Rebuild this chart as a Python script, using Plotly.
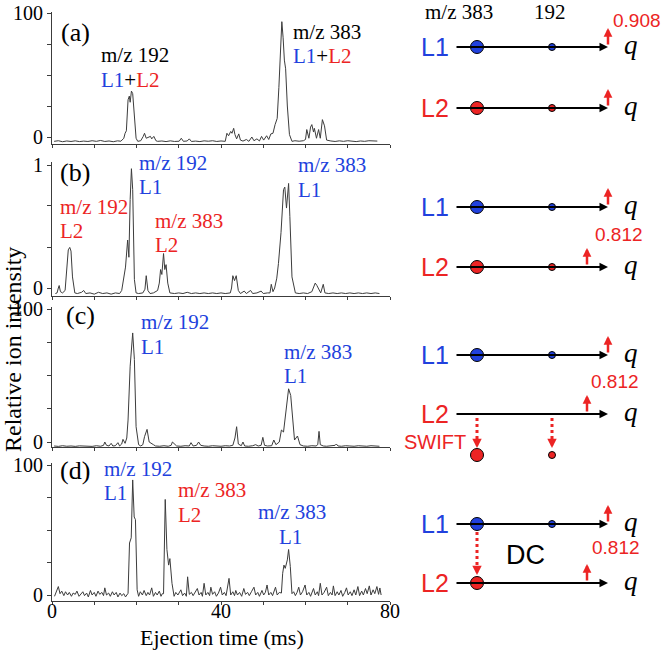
import plotly.graph_objects as go

W, H = 666, 652
SERIF = "Liberation Serif, Times New Roman, serif"
SANS = "Liberation Sans, Arial, sans-serif"
BLUE = "#2141dd"
RED = "#ec2424"
LINE = "#3c3c3c"

# ---------------- data ----------------
time_a = [0.5, 1.5, 2.5, 3.5, 4.5, 5.5, 6.5, 7.5, 8.5, 9.5, 10.5, 11.5, 12.5, 13.5, 14.5, 15.5, 16.3,
          17.0, 17.3, 17.6, 18.0, 18.3, 18.5, 18.8, 19.1, 19.5, 19.9, 20.3, 21.0, 21.6, 21.9, 22.3,
          22.8, 23.3, 23.6, 24.1, 24.6, 25.0, 26, 27, 28, 29, 30.1, 30.6, 31.1, 32.0, 32.5, 33.0,
          34, 35, 36, 37, 38, 39, 40, 41.0, 41.4, 41.8, 42.3, 42.6, 43.0, 43.3, 43.7, 44.2, 44.6,
          45.2, 46.0, 46.6, 47.3, 47.8, 48.5, 49.1, 49.6, 50.1, 50.8, 51.3, 51.8, 52.3, 52.8, 53.3,
          53.7, 54.1, 54.4, 54.7, 55.0, 55.3, 55.7, 56.2, 56.8, 57.5, 58.5, 59.5, 60.0, 60.3, 60.8,
          61.2, 61.5, 61.9, 62.1, 62.6, 63.1, 63.5, 64.0, 64.5, 65.0, 66, 67, 68, 69, 70, 71, 72,
          73, 74, 75, 76, 77]
int_a = [-3.5, -3.0, -3.8, -3.2, -3.6, -3.1, -3.7, -3.3, -3.6, -3.0, -3.5, -2.8, -3.6, -3.2, -3.8, -3.1, -3.4,
         -1.0, 3.0, 5.0, 30, 33, 28, 37, 35, 15, -1, -3.5, -3.0, 0.5, 3.0, -1.0,
         -0.5, 0.5, -1.5, 0.5, -3.0, -3.5, -3.2, -3.7, -3.1, -3.6, -3.4, -1.0, -3.5, -3.2, -1.5, -3.6,
         -3.3, -3.7, -3.1, -3.4, -3.0, -3.6, -3.2, -3.5, 3.0, 1.0, 4.5, 3.0, 7.0, 2.0, -1.5, 2.5, -2.5,
         -3.3, -2.0, -3.5, 0.0, -3.0, -1.5, -3.2, 0.5, -2.5, 1.0, -2.0, 2.5, 3.0, 10, 15,
         40, 75, 93, 80, 62, 55, 25, 2, -3.5, -3.0, -3.4, -3.0, -2.0, 6, -1,
         8, 10, 4, 7, -1, 6, -1, 14, 9, -2.5, -3.2, -3.6, -3.1, -3.5, -3.0, -3.4, -3.7,
         -3.2, -3.5, -3.0, -3.4, -3.3]

time_b = [0.8, 1.2, 1.5, 1.7, 2.0, 2.5, 3.1, 3.5, 3.85, 4.2, 4.5, 4.85, 5.4, 6.0, 7.0, 7.5, 8.0, 9, 10,
          11, 12, 13, 14, 15, 16.0, 16.5, 16.8, 17.4, 17.9, 18.2, 18.5, 18.8, 19.1, 19.5, 19.9, 20.5,
          21.5, 22.0, 22.3, 22.7, 23.2, 24.0, 25.0, 25.4, 25.7, 26.0, 26.4, 26.7, 27.0, 27.4, 27.9,
          29, 30, 31, 32, 33, 34, 35, 36, 37, 38, 39, 40, 41, 42.2, 42.5, 42.8, 43.2, 43.6, 44.1,
          44.6, 45.5, 46.0, 47.0, 47.5, 48.5, 49.5, 50.0, 51.0, 51.6, 51.9, 52.3, 52.7, 53.2, 53.6,
          54.2, 54.8, 55.1, 55.5, 56.0, 56.3, 56.8, 57.6, 58.5, 59.5, 60.5, 61.5, 62.0, 62.3, 62.7,
          63.1, 63.6, 64.2, 64.6, 65.5, 66.5, 67.5, 68.5, 69.5, 70.5, 71.5, 72.5, 73.5, 74.5, 75.5,
          76.5, 77.5]
int_b = [-0.045, -0.04, 0.0, 0.02, -0.03, -0.04, -0.02, 0.17, 0.31, 0.33, 0.30, 0.09, -0.04, -0.045, -0.035,
         -0.02, -0.045, -0.04, -0.05, -0.035, -0.045, -0.04, -0.05, -0.04, -0.045, -0.02, 0.04, 0.17, 0.39,
         0.25, 0.72, 0.97, 0.80, 0.07, -0.04, -0.045, -0.04, -0.01, 0.10, -0.02, -0.045, -0.04, -0.02, 0.04,
         0.15, 0.11, 0.28, 0.15, 0.19, 0.04, -0.04, -0.045, -0.04, -0.045, -0.035, -0.045, -0.04, -0.045,
         -0.04, -0.045, -0.04, -0.045, -0.04, -0.045, -0.04, 0.0, 0.10, 0.06, 0.10, -0.02, -0.045, -0.025,
         -0.045, -0.02, -0.045, -0.04, -0.025, -0.045, -0.04, -0.04, 0.03, -0.03, 0.0, 0.08, 0.20, 0.45,
         0.80, 0.82, 0.65, 0.85, 0.58, 0.09, -0.04, -0.045, -0.04, -0.045, -0.03, 0.02, 0.04, 0.02, -0.01,
         -0.04, 0.03, -0.04, -0.045, -0.04, -0.045, -0.04, -0.045, -0.04, -0.045, -0.04, -0.045, -0.04,
         -0.045, -0.04, -0.045]

time_c = [0.5, 1.5, 2.5, 3.5, 4.5, 5.5, 6.5, 7.5, 8.5, 9.5, 10.5, 11.5, 12.2, 12.5, 12.9, 13.5, 14.0,
          14.4, 15.0, 15.6, 16.0, 16.5, 16.8, 17.3, 17.7, 18.0, 18.5, 19.1, 19.5, 19.9, 20.5, 21.0,
          21.5, 21.9, 22.5, 23.0, 24.0, 24.5, 25.5, 26.5, 27.5, 28.2, 28.5, 28.9, 29.5, 30.5, 31.5,
          32.5, 32.9, 33.4, 34.2, 34.7, 35.2, 36, 37, 38, 39, 40, 41, 42, 42.8, 43.3, 43.7, 44.1,
          44.8, 45.2, 45.6, 46.5, 47.5, 48.2, 48.8, 49.5, 49.9, 50.3, 51, 52, 52.5, 53.0, 53.8, 54.3,
          54.8, 55.4, 56.0, 56.5, 56.9, 57.4, 58.1, 58.7, 59.5, 60.5, 61.5, 62.5, 62.9, 63.2, 63.5,
          64.2, 65, 66, 67, 67.3, 67.7, 68.5, 69.5, 70.5, 71.5, 72.5, 73.5, 74.5, 75.5, 76.5, 77.5]
int_c = [-3.0, -3.3, -2.8, -3.2, -3.0, -3.3, -2.9, -3.2, -3.0, -3.3, -2.8, -3.2, -2.5, 0.0, -2.5, -3.0, -1.0,
         -3.0, -2.8, -0.5, -3.0, -1.5, 2.0, -1.0, 3.0, 16.5, 57, 82, 62, 11.5, -2.0, -3.0,
         -2.0, 4.0, 9.5, 0.0, -2.0, -3.0, -3.2, -2.8, -3.2, -2.5, 0.0, -1.0, -3.0, -3.2, -2.8,
         -3.0, -0.5, -3.0, -2.5, 0.0, -2.5, -3.0, -3.2, -2.8, -3.0, -3.2, -2.8, -3.0, -2.5, 3.0, 11.5, -1.5,
         -2.8, 0.0, -3.0, -3.2, -2.8, -2.0, -3.0, -2.5, 3.5, -2.5, -3.0, -2.8, 1.5, -2.0, 0.0, 9.0,
         7.5, 24, 40, 35, 19, 1.5, 4.5, -2.0, -3.0, -3.2, -2.8, -3.0, -2.0, 8.0, -2.0,
         -3.0, -3.2, -2.8, -2.5, -1.5, -3.0, -3.2, -2.8, -3.0, -3.2, -2.8, -3.0, -3.2, -2.8, -3.0, -3.2]

time_d = [0.6, 1.0, 1.5, 1.9, 2.3, 2.8, 3.2, 3.7, 4.1, 4.6, 5.0, 5.5, 5.9, 6.4, 6.8, 7.3, 7.7, 8.2, 8.6,
          9.1, 9.5, 10.0, 10.4, 10.9, 11.3, 11.8, 12.2, 12.5, 12.9, 13.4, 13.8, 14.3, 14.7, 15.2, 15.6,
          16.1, 16.5, 17.0, 17.4, 17.8, 18.0, 18.35, 18.75, 19.1, 19.45, 19.75, 20.15, 20.5, 20.9, 21.4,
          21.8, 22.3, 22.7, 23.1, 23.6, 24.0, 24.5, 24.9, 25.4, 25.8, 26.1, 26.4, 26.8, 27.2, 27.6, 27.9,
          28.4, 28.9, 29.3, 29.8, 30.2, 30.5, 30.9, 31.4, 31.8, 32.1, 32.5, 33.0, 33.4, 33.9, 34.4, 34.8,
          35.3, 35.6, 36.0, 36.4, 36.9, 37.3, 37.6, 38.0, 38.5, 38.9, 39.4, 39.9, 40.3, 40.8, 41.2, 41.9,
          42.3, 42.8, 43.2, 43.5, 43.9, 44.4, 44.9, 45.4, 45.8, 46.3, 46.7, 47.2, 47.8, 48.2, 48.7, 49.1,
          49.7, 50.1, 50.5, 50.9, 51.3, 51.8, 52.2, 52.9, 53.3, 53.8, 54.3, 54.6, 54.9, 55.2, 55.7, 56.0,
          56.4, 56.8, 57.2, 57.6, 58.0, 58.4, 58.8, 59.3, 59.9, 60.3, 60.8, 61.2, 61.9, 62.3, 62.8, 63.1,
          63.5, 63.9, 64.4, 65.0, 65.4, 65.9, 66.3, 66.6, 67.0, 67.5, 67.9, 68.4, 68.8, 69.3, 69.7, 70.1,
          70.6, 71.0, 71.5, 71.9, 72.4, 72.8, 73.3, 73.7, 74.2, 74.6, 75.1, 75.5, 76.0, 76.4, 76.9, 77.3,
          77.6, 77.9]
int_d = [-1.0, 2.0, 6.5, 1.0, 3.0, -0.5, 2.5, 0.0, 2.0, -1.0, 1.5, 0.5, 3.0, -1.0, 1.0, 2.5, -0.5, 1.5, -1.5,
         3.5, 0.0, 2.0, -1.0, 3.0, 0.5, 2.0, -0.5, 5.5, 0.0, 1.5, -1.0, 2.5, 0.0, 2.0, -1.5,
         1.5, -0.5, 1.0, -1.5, 0.0, 1.3, 40, 44, 88.5, 60, 58, 4.0, -1.0, 2.5, 0.0,
         3.5, -0.5, 2.0, 0.0, 5.5, -1.0, 2.0, 0.0, 3.0, -1.0, 1.0, 1.0, 73.5, 35, 23, 28,
         9.0, -1.0, 2.0, 0.0, 2.5, 4.0, -0.5, 1.5, -1.0, 14, 0.5, 2.0, -0.5, 2.0, 5.0, 0.0,
         2.0, -1.0, 9.0, 0.0, 2.0, -0.5, 6.0, 0.5, 2.5, -1.0, 1.5, 6.0, 0.0, 2.0, -0.5, 12.8,
         0.0, 2.5, -0.5, 3.5, 0.0, 2.0, -1.0, 5.0, 0.5, 2.0, -0.5, 2.5, 6.0, 0.0, 2.0, -1.0,
         3.5, 0.0, 2.0, 7.7, 0.0, 2.0, -0.5, 6.0, 0.0, 2.0, 1.5, 16.7, 23, 20.5, 27, 35,
         22, 1.0, 2.5, -0.5, 2.0, 6.0, 0.0, 2.5, 7.7, 0.0, 2.0, -1.0, 5.0, 0.0, 2.5, -0.5,
         9.0, 0.0, 2.0, 6.0, -0.5, 2.0, 0.0, 7.0, -0.5, 2.5, 0.0, 3.5, -1.0, 2.0, 5.5, 0.0,
         2.5, -0.5, 4.0, 0.0, 6.5, -0.5, 3.0, 0.0, 5.0, 1.0, 7.0, 0.0, 4.0, 1.0, 6.5, 0.5,
         5.4, 0.0]

x_tick_vals = [0, 10, 20, 30, 40, 50, 60, 70, 80]
x_label_vals = [0, 40, 80]
x_label_text = ["0", "40", "80"]
y_tick_vals_pct = [0, 25, 50, 75, 100]
y_tick_text_pct = ["0", "", "", "", "100"]
y_tick_vals_b = [0, 0.33, 0.67, 1]
y_tick_text_b = ["0", "", "", "1"]
panel_labels = ["(a)", "(b)", "(c)", "(d)"]


def xp(p):
    return p / W


def yp(p):
    return 1 - p / H


def yaxis_geom(p0, p1, v1, pb, pt):
    """p0: pixel of value 0, p1: pixel of value v1, pb/pt: bottom/top pixel of axis."""
    s = (p0 - p1) / v1
    return [-(pb - p0) / s, v1 + (p1 - pt) / s], [yp(pb), yp(pt)]


panels = [
    (time_a, int_a, (137, 13, 100, 144, 12), y_tick_vals_pct, y_tick_text_pct),
    (time_b, int_b, (288, 165, 1, 296, 162), y_tick_vals_b, y_tick_text_b),
    (time_c, int_c, (442, 309, 100, 447, 307), y_tick_vals_pct, y_tick_text_pct),
    (time_d, int_d, (595, 465, 100, 601, 463), y_tick_vals_pct, y_tick_text_pct),
]

fig = go.Figure()
layout = dict(
    width=W, height=H, margin=dict(l=0, r=0, t=0, b=0, autoexpand=False),
    paper_bgcolor="white", plot_bgcolor="rgba(0,0,0,0)", showlegend=False,
)

for i, (t, v, geom, tv, tt) in enumerate(panels):
    n = "" if i == 0 else str(i + 1)
    fig.add_trace(go.Scatter(x=t, y=v, mode="lines", line=dict(color=LINE, width=1),
                             xaxis="x" + n, yaxis="y" + n, hoverinfo="skip"))
    yr, ydom = yaxis_geom(*geom)
    layout["xaxis" + n] = dict(
        domain=[xp(52), xp(390)], range=[0, 80], anchor="y" + n,
        showline=True, linecolor=LINE, linewidth=1, ticks="outside", ticklen=3,
        tickcolor=LINE, tickvals=x_tick_vals, showticklabels=False, automargin=False,
        showgrid=False, zeroline=False, fixedrange=True,
    )
    layout["yaxis" + n] = dict(
        domain=ydom, range=yr, anchor="x" + n,
        showline=True, linecolor=LINE, linewidth=1, ticks="outside", ticklen=4,
        tickcolor=LINE, tickvals=tv, ticktext=tt, automargin=False,
        tickfont=dict(family=SERIF, size=20, color="black"),
        showgrid=False, zeroline=False, fixedrange=True,
    )

# overlay axes in pixel units for the schematic on the right
layout["xaxis5"] = dict(domain=[0, 1], range=[0, W], anchor="y5", visible=False,
                        fixedrange=True, automargin=False)
layout["yaxis5"] = dict(domain=[0, 1], range=[H, 0], anchor="x5", visible=False,
                        fixedrange=True, automargin=False)

annotations = []
shapes = []


def txt(text, x, y, color="black", size=21, family=SERIF, xanchor="center", angle=0, xref="x5"):
    annotations.append(dict(
        text=text, x=x, y=y, xref=xref, yref="y5", showarrow=False,
        xanchor=xanchor, yanchor="middle", textangle=angle, borderpad=0,
        font=dict(family=family, size=size, color=color),
    ))


def c(text, col):
    return '<span style="color:%s">%s</span>' % (col, text)


L12 = c("L1", BLUE) + "+" + c("L2", RED)

# x tick labels of the bottom panel, placed on its own time axis
for val, lab in zip(x_label_vals, x_label_text):
    txt(lab, val, 611, size=20, xref="x4")

# axis titles
txt("Ejection time (ms)", 222, 637, size=22)
txt("Relative ion intensity", 13, 350, size=24, angle=-90)

# panel labels
for lab, (x, y) in zip(panel_labels, [(75, 32), (75, 172), (80, 315), (75, 470)]):
    txt(lab, x, y, size=26)

# (a)
txt("m/z 192", 100, 55, xanchor="left")
txt(L12, 100, 80, xanchor="left")
txt("m/z 383", 292, 32, xanchor="left")
txt(L12, 292, 56, xanchor="left")
# (b)
txt("m/z 192", 138, 163, BLUE, xanchor="left")
txt("L1", 138, 187, BLUE, xanchor="left")
txt("m/z 192", 59, 207, RED, xanchor="left")
txt("L2", 59, 231, RED, xanchor="left")
txt("m/z 383", 154, 221, RED, xanchor="left")
txt("L2", 154, 245, RED, xanchor="left")
txt("m/z 383", 297, 165, BLUE, xanchor="left")
txt("L1", 297, 190, BLUE, xanchor="left")
# (c)
txt("m/z 192", 140, 322, BLUE, xanchor="left")
txt("L1", 140, 347, BLUE, xanchor="left")
txt("m/z 383", 283, 352, BLUE, xanchor="left")
txt("L1", 283, 376, BLUE, xanchor="left")
# (d)
txt("m/z 192", 103, 469, BLUE, xanchor="left")
txt("L1", 103, 493, BLUE, xanchor="left")
txt("m/z 383", 177, 490, RED, xanchor="left")
txt("L2", 177, 515, RED, xanchor="left")
txt("m/z 383", 257, 512, BLUE, xanchor="left")
txt("L1", 290, 537, BLUE)

# ---------------- schematic ----------------
X_START, X_END = 455, 608
X_BIG, X_SMALL = 477, 552


def arrow(x0, y0, x1, y1, color, width, size):
    annotations.append(dict(
        x=x1, y=y1, ax=x0, ay=y0, xref="x5", yref="y5", axref="x5", ayref="y5",
        showarrow=True, arrowhead=2, arrowsize=size, arrowwidth=width,
        arrowcolor=color, text="", standoff=0, startstandoff=0,
    ))


def dotted_arrow(x, y0, y1):
    shapes.append(dict(type="line", xref="x5", yref="y5", x0=x, x1=x, y0=y0, y1=y1 - 7,
                       line=dict(color=RED, width=3, dash="dot"), layer="above"))
    arrow(x, y1 - 8, x, y1, RED, 2.5, 0.75)


big_x, big_y, big_c = [], [], []
small_x, small_y, small_c = [], [], []

rows = [
    # y, label, colour, circles(big, small), marker arrow x
    (47, "L1", BLUE, (True, True), 608),
    (108, "L2", RED, (True, True), 608),
    (207, "L1", BLUE, (True, True), 608),
    (267, "L2", RED, (True, True), 587),
    (355, "L1", BLUE, (True, True), 608),
    (414, "L2", RED, (False, False), 587),
    (524, "L1", BLUE, (True, True), 608),
    (583, "L2", RED, (True, False), 587),
]
for y, lab, col, (hb, hs), ax_ in rows:
    txt(lab, 450, y, col, size=25, family=SANS, xanchor="right")
    arrow(X_START, y, X_END, y, "black", 2, 0.85)
    txt("<i>q</i>", 631, y - 2, size=27)
    arrow(ax_, y - 1, ax_, y - 19, RED, 2.5, 0.7)
    if hb:
        big_x.append(X_BIG); big_y.append(y); big_c.append(col)
    if hs:
        small_x.append(X_SMALL); small_y.append(y); small_c.append(col)

# ejected ions (SWIFT)
big_x.append(X_BIG); big_y.append(455); big_c.append(RED)
small_x.append(X_SMALL); small_y.append(455); small_c.append(RED)
dotted_arrow(X_BIG, 418, 448)
dotted_arrow(X_SMALL, 418, 448)
# DC transfer
dotted_arrow(X_BIG, 532, 575)

fig.add_trace(go.Scatter(x=big_x, y=big_y, mode="markers", xaxis="x5", yaxis="y5", hoverinfo="skip",
                         marker=dict(size=13, color=big_c, line=dict(color="black", width=1))))
fig.add_trace(go.Scatter(x=small_x, y=small_y, mode="markers", xaxis="x5", yaxis="y5", hoverinfo="skip",
                         marker=dict(size=7, color=small_c, line=dict(color="black", width=1))))

txt("m/z 383", 459, 12)
txt("192", 550, 12)
txt("0.908", 662, 20, RED, size=19, family=SANS, xanchor="right")
txt("0.812", 619, 234, RED, size=19, family=SANS)
txt("0.812", 615, 381, RED, size=19, family=SANS)
txt("0.812", 616, 547, RED, size=19, family=SANS)
txt("SWIFT", 435, 442, RED, size=20, family=SANS)
txt("DC", 525, 555, "black", size=27, family=SANS)

layout["annotations"] = annotations
layout["shapes"] = shapes
fig.update_layout(**layout)
fig.write_html("out.html", config={"displayModeBar": False},
               post_script="document.body.style.margin='0px';")
